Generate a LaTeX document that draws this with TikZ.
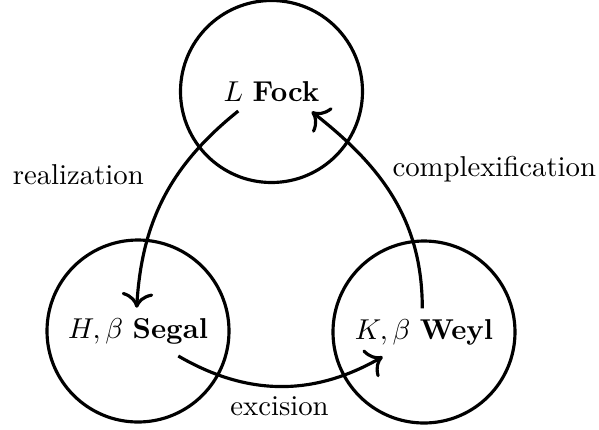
\documentclass[tikz,border=0pt]{standalone}
\usetikzlibrary{arrows.meta}
\newdimen\u
\u=0.348pt
\tikzset{
  ball/.style={circle, draw, line width=1.1pt, minimum size=182\u, inner sep=0pt},
  arr/.style={-{To[scale=1.3]}, line width=1.1pt},
  lbl/.style={anchor=base, inner sep=0pt}
}
\begin{document}
\begin{tikzpicture}[x=\u, y=-\u]
\useasboundingbox (0,0) rectangle (599,429);
\node[ball] (fock)  at (271.5,91.5) {$L$ \textbf{Fock}};
\node[ball] (segal) at (138,331) {$H,\beta$ \textbf{Segal}};
\node[ball] (weyl)  at (424,332) {$K,\beta$ \textbf{Weyl}};
\node[lbl] (lreal) at (78.3,184.3) {realization};
\node[lbl] (lcomp) at (494.3,176) {complexification};
\node[lbl] (lexc)  at (279.5,415) {excision};
\draw[arr] ([shift={(-33.2,19.5)}]fock.center) to[bend right=24] ([shift={(-1.3,-23.3)}]segal.center);
\draw[arr] ([shift={(-1.7,-23.7)}]weyl.center) to[out=90,in=-38] ([shift={(40.2,20.2)}]fock.center);
\draw[arr] ([shift={(40.3,25)}]segal.center) to[bend right=30] ([shift={(-41.3,24.7)}]weyl.center);
\end{tikzpicture}
\end{document}
